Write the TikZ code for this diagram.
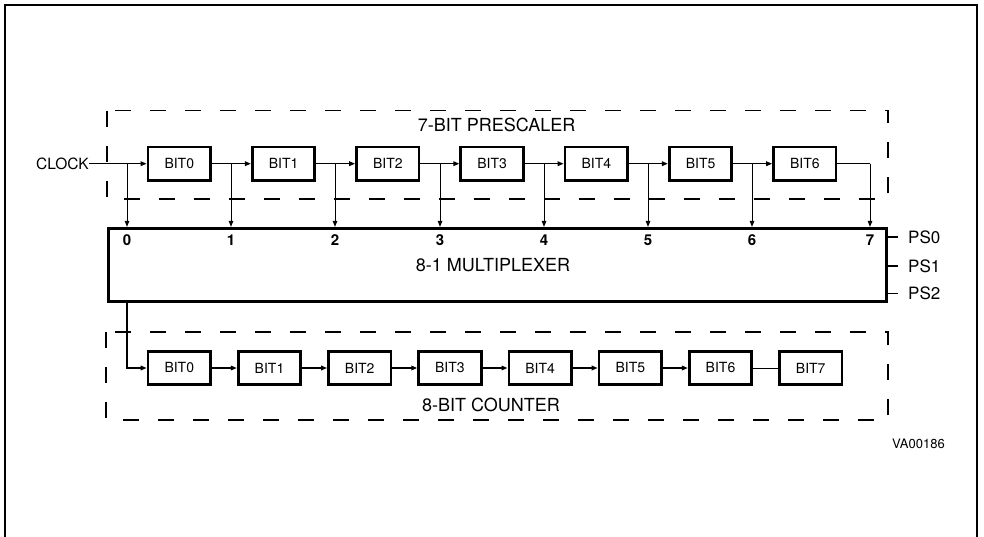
\documentclass[tikz,border=0pt]{standalone}
\usepackage{fontspec}
\setmainfont{TeX Gyre Heros}
\usetikzlibrary{arrows.meta}
\begin{document}
\begin{tikzpicture}[x=1pt,y=-1pt,
  bitbox/.style={draw,line width=2.7pt,minimum width=62.5pt,minimum height=33.5pt,inner sep=0pt,font=\fontsize{14}{16}\selectfont},
  muxbox/.style={draw,line width=3.2pt,minimum width=778pt,minimum height=73pt,inner sep=0pt},
  sig/.style={line width=1.6pt},
  tap/.style={line width=1pt},
  arr/.style={-{Triangle[length=6pt,width=4.5pt]}},
  dashbox/.style={line width=1.6pt,dash pattern=on 16pt off 19pt},
  frame/.style={line width=2.4pt},
  title/.style={font=\fontsize{18}{20}\selectfont,inner sep=0pt},
  numlab/.style={font=\bfseries\fontsize{15}{17}\selectfont,inner sep=0pt},
  pslab/.style={font=\fontsize{17}{19}\selectfont,inner sep=0pt,anchor=west},
  clk/.style={font=\fontsize{15.5}{17}\selectfont,inner sep=0pt,anchor=east},
  ref/.style={font=\fontsize{13}{15}\selectfont,inner sep=0pt,anchor=west}
]
\useasboundingbox (0,0) rectangle (984,537);
% outer frame
\draw[frame] (5,537) -- (5,5) -- (977,5) -- (977,537);

% dashed group boxes
\draw[dashbox] (107,110.7) rectangle (888,199);
\draw[dashbox] (106,332) rectangle (888,420);
\node[title] (ptitle) at (496.5,125) {7-BIT PRESCALER};
\node[title] (ctitle) at (491,404.5) {8-BIT COUNTER};

% prescaler
\foreach \i in {0,...,6} {
  \node[bitbox] (p\i) at ({179.3+104.25*\i},163.7) {BIT\i};
}
\node[clk] (clock) at (89,163.7) {CLOCK};

% multiplexer
\node[muxbox] (mux) at (497.5,265) {};
\node[title] (muxlab) at (493,265) {8-1 MULTIPLEXER};

% taps
\foreach \i/\x in {0/127,1/231,2/335,3/440,4/544,5/648,6/752,7/870} {
  \coordinate (t\i) at (\x,163.7);
  \node[numlab] (n\i) at (\x,240.5) {\i};
}

\draw[sig,arr] (clock.east) -- (p0.west);
\foreach \i [evaluate=\i as \j using int(\i+1)] in {0,...,5} {
  \draw[sig,arr] (p\i.east) -- (p\j.west);
}
\draw[sig] (p6.east) -- (t7);
\foreach \i in {0,...,7} {
  \draw[tap,arr] (t\i) -- (t\i |- mux.north);
}

% select inputs
\foreach \i/\y in {0/237.3,1/266,2/293.3} {
  \node[pslab] (ps\i) at (908,\y) {PS\i};
  \draw[sig] (mux.east |- ps\i.west) -- ++(10,0);
}

% counter
\foreach \i in {0,...,7} {
  \node[bitbox] (c\i) at ({179.3+90.2*\i},368) {BIT\i};
}
\draw[sig,arr] (t0 |- mux.south) |- (c0.west);
\foreach \i [evaluate=\i as \j using int(\i+1)] in {0,...,5} {
  \draw[sig,arr] (c\i.east) -- (c\j.west);
}
\draw[tap] (c6.east) -- (c7.west);

\node[ref] (va) at (892,443.5) {VA00186};
\end{tikzpicture}
\end{document}
